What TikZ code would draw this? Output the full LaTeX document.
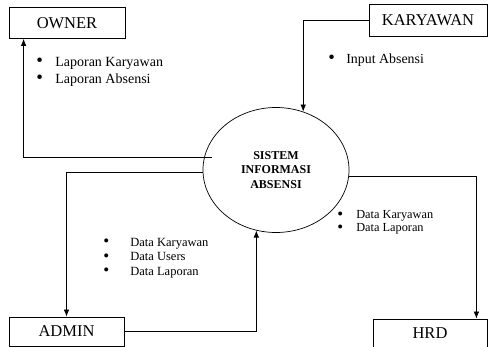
\documentclass[tikz,border=0pt]{standalone}
\usepackage{fontspec}
\setmainfont{Liberation Serif}
\usetikzlibrary{shapes.geometric,calc,arrows.meta}

\newcommand{\bul}[2]{\makebox[#1][l]{\smash{\raisebox{-0.1ex}{\scalebox{1.35}{\textbullet}}}}#2}

\tikzset{
  entity/.style={draw,line width=0.8pt,minimum width=116pt,minimum height=31pt,
    inner sep=0pt,font=\fontsize{16.5}{18}\selectfont},
  process/.style={draw,ellipse,line width=0.7pt,minimum width=146pt,minimum height=125pt,
    inner sep=0pt,align=center,font=\bfseries\fontsize{12}{14.5}\selectfont},
  note/.style={anchor=west,align=left,inner sep=0pt}
}

\begin{document}
\begin{tikzpicture}
      [x=1pt,y=-1pt,>={Latex[length=7pt,width=5.5pt]},line width=0.7pt]
      \useasboundingbox (0,0) rectangle (488,347);

      \node[entity] (owner) at (67,23) {OWNER};
      \node[entity,minimum width=118pt,minimum height=32pt] (karyawan) at (428,20) {KARYAWAN};
      \node[entity,minimum width=115pt,minimum height=29pt] (admin) at (66.5,331.5) {ADMIN};
      \node[entity,minimum width=114pt,minimum height=28pt] (hrd) at (430,333) {HRD};
      \node[process] (sistem) at (276,170) {SISTEM\\INFORMASI\\ABSENSI};

      % flows
      \draw[->] ($(sistem.170)+(8,0)$) -| ($(owner.south west)+(15,0)$);
      \draw[->] (sistem.182) -| (admin.north);
      \draw[->] (karyawan.west) -| (sistem.65);
      \draw[->] (admin.east) -| (sistem.252);
      \draw[->] (sistem.-5) -| ($(hrd.north east)+(-11,0)$);

      % data labels
      \node[note,font=\fontsize{14}{17}\selectfont] (lapowner) at (36,71.5)
        {\bul{19pt}{Laporan Karyawan}\\\bul{19pt}{Laporan Absensi}};
      \node[note,font=\fontsize{13.9}{16}\selectfont] (inabsen) at (328,60)
        {\bul{18pt}{Input Absensi}};
      \node[note,font=\fontsize{12.5}{14.5}\selectfont] (dataadmin) at (103,258)
        {\bul{27pt}{Data Karyawan}\\\bul{27pt}{Data Users}\\\bul{27pt}{Data Laporan}};
      \node[note,font=\fontsize{12.3}{13.3}\selectfont] (datahrd) at (337,222.5)
        {\bul{19pt}{Data Karyawan}\\\bul{19pt}{Data Laporan}};
\end{tikzpicture}
\end{document}
